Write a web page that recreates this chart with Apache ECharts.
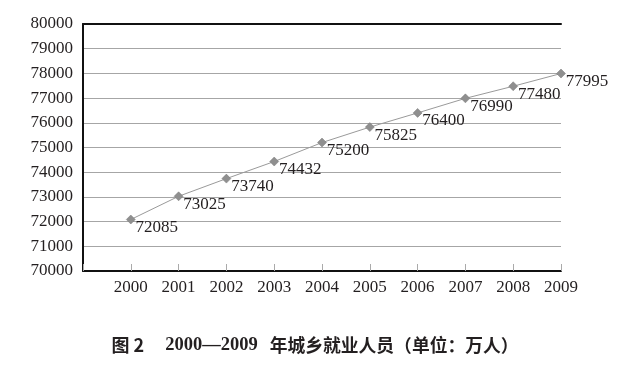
<!DOCTYPE html>
<html>
<head>
<meta charset="utf-8">
<script src="https://cdn.jsdelivr.net/npm/echarts@6/dist/echarts.min.js"></script>
<style>html,body{margin:0;padding:0;background:#fff}#c{width:630px;height:365px}</style>
</head>
<body>
<div id="c"></div>
<script>
const years = [2000, 2001, 2002, 2003, 2004, 2005, 2006, 2007, 2008, 2009];
const employed = [72085, 73025, 73740, 74432, 75200, 75825, 76400, 76990, 77480, 77995];
const yMin = 70000, yMax = 80000, yStep = 1000;
const xMin = 1999, xMax = 2009;
const titleText = ['图 2', '2000—2009', '年城乡就业人员（单位：万人）'];

const serif = 'Liberation Serif';
const ink = '#231f20';
const chart = echarts.init(document.getElementById('c'), null, {renderer: 'canvas'});
chart.setOption({
  animation: false,
  backgroundColor: '#fff',
  textStyle: {fontFamily: serif},
  title: {
    left: 'center', top: 331,
    text: '{a|' + titleText[0] + '}{b|' + titleText[1] + '}{c|' + titleText[2] + '}',
    textStyle: {
      rich: {
        a: {fontFamily: 'Noto Sans CJK SC', fontWeight: 'bold', fontSize: 18, color: ink, padding: [0, 21, 0, 0]},
        b: {fontFamily: serif, fontWeight: 'bold', fontSize: 18.5, color: ink, padding: [0, 12, 0, 0]},
        c: {fontFamily: 'Noto Sans CJK SC', fontWeight: 'bold', fontSize: 17.8, color: ink}
      }
    }
  },
  grid: {left: 83, right: 69, top: 24, bottom: 94},
  xAxis: [{
    type: 'value', min: xMin, max: xMax, interval: 1,
    axisLine: {show: true, lineStyle: {color: '#111', width: 2}},
    axisTick: {show: true, inside: true, length: 7, lineStyle: {color: '#aaa', width: 1}},
    axisLabel: {
      margin: 8, fontFamily: serif, fontSize: 17, color: ink,
      formatter: v => (v === xMin ? '' : String(v))
    },
    splitLine: {show: false}
  }, {
    type: 'value', position: 'top', min: xMin, max: xMax, interval: 1,
    axisLine: {show: true, onZero: false, lineStyle: {color: '#111', width: 2}},
    axisTick: {show: false}, axisLabel: {show: false}, splitLine: {show: false}
  }],
  yAxis: {
    type: 'value', min: yMin, max: yMax, interval: yStep,
    axisLine: {show: true, lineStyle: {color: '#111', width: 2}},
    axisTick: {show: false},
    axisLabel: {margin: 10, fontFamily: serif, fontSize: 17, color: ink, padding: [0, 0, 14, 0],
      formatter: v => String(v)},
    splitLine: {show: true, lineStyle: {color: '#a6a6a6', width: 1}}
  },
  series: [{
    type: 'line',
    data: years.map((y, i) => [y, employed[i]]),
    symbol: 'diamond', symbolSize: 9,
    itemStyle: {color: '#8f8f8f', borderColor: '#7a7a7a', borderWidth: 0.5},
    lineStyle: {color: '#9a9a9a', width: 1},
    label: {
      show: true, position: 'right', offset: [-5, 8],
      fontFamily: serif, fontSize: 17, color: ink
    },
    z: 5
  }]
});
</script>
</body>
</html>
